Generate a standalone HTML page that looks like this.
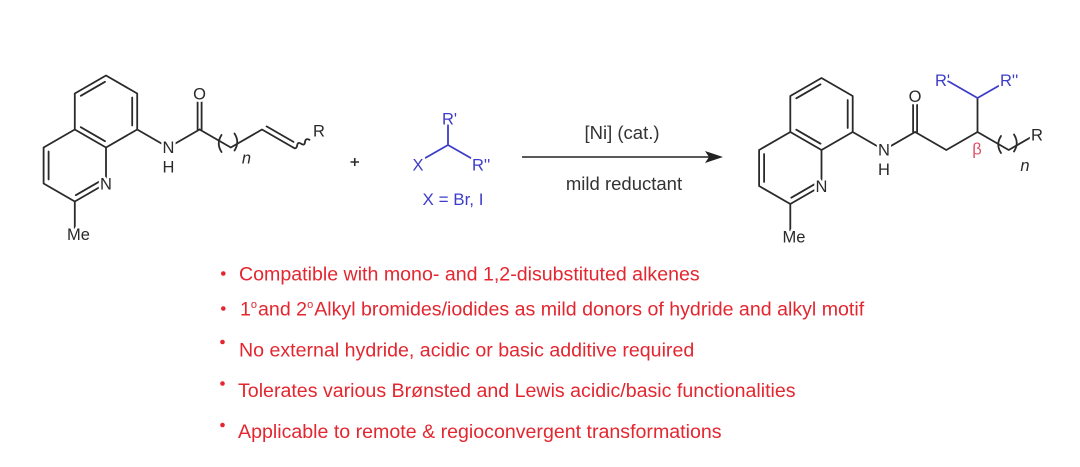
<!DOCTYPE html>
<html>
<head>
<meta charset="utf-8">
<style>
html,body{margin:0;padding:0;background:#fff;}
svg{display:block;}
.lb{font-family:"Liberation Sans",Arial,sans-serif;font-size:16.5px;fill:#2a2a2a;paint-order:stroke;stroke:#fff;stroke-width:5px;stroke-linejoin:round;}
.bl{fill:#3d3dc9;}
.it{font-style:italic;}
.bt{font-family:"Liberation Sans",Arial,sans-serif;font-size:19.6px;fill:#e3262f;}
.ar{font-family:"Liberation Sans",Arial,sans-serif;font-size:18.5px;fill:#333;}
</style>
</head>
<body>
<svg width="1080" height="467" viewBox="0 0 1080 467" xmlns="http://www.w3.org/2000/svg">
<rect width="1080" height="467" fill="#fff"/>

<!-- LEFT MOLECULE: quinoline amide -->
<g>
  <g stroke="#2a2a2a" stroke-width="1.8" fill="none" stroke-linecap="round" stroke-linejoin="round">
    <path d="M106,75.5 L137.2,93.5 L137.2,129.5 L106,147.5 L74.8,129.5 L74.8,93.5 Z"/>
    <path d="M106,147.5 L106,183.5 L74.8,201.5 L43.6,183.5 L43.6,147.5 L74.8,129.5"/>
    <path d="M80.8,95.8 L105,81.8 M132.2,97.5 L132.2,125.5 M80.8,127.2 L105,141.2 M100,181.2 L75.8,195.2 M48.6,151.5 L48.6,179.5"/>
    <path d="M74.8,201.5 L74.8,228"/>
    <path d="M137.2,129.5 L168.4,147.5 L199.6,129.5"/>
    <path d="M197.6,129.5 L197.6,96 M201.6,129.5 L201.6,96"/>
  </g>
  <text class="lb" x="106" y="189.5" text-anchor="middle">N</text>
  <text class="lb" x="78.5" y="240" text-anchor="middle">Me</text>
  <text class="lb" x="168.4" y="153" text-anchor="middle">N</text>
  <text class="lb" x="168.4" y="172.5" text-anchor="middle">H</text>
  <text class="lb" x="199.6" y="99.5" text-anchor="middle">O</text>
</g>

<!-- left chain -->
<g stroke="#2a2a2a" stroke-width="1.8" fill="none" stroke-linecap="round" stroke-linejoin="round">
  <path d="M199.6,129.5 L230.8,147.5 L262,129.5 L293.2,147.5"/>
  <path d="M266.6,126.4 L293.5,141.9"/>
  <path d="M293.2,147.5 Q296.2,149.8 297.15,145.6 Q297.6,141.4 301.1,143.75 Q304.6,146.1 305.05,141.9 Q305.5,137.7 309.5,139.8"/>
  <path d="M221.5,135 Q216,143.5 221.5,152"/>
  <path d="M234.5,133.5 Q240,142 234.5,150.5"/>
</g>
<text class="lb it" x="246.5" y="163.5" text-anchor="middle">n</text>
<text class="lb" x="319" y="136.5" text-anchor="middle">R</text>

<!-- plus -->
<g stroke="#2a2a2a" stroke-width="1.6">
  <path d="M350.5,162 L359,162 M354.75,158 L354.75,166"/>
</g>

<!-- middle reagent -->
<g stroke="#3d3dc9" stroke-width="1.8" fill="none" stroke-linecap="round" stroke-linejoin="round">
  <path d="M448,125 L448,145 L420,161 M448,145 L476,161"/>
</g>
<text class="lb bl" x="442" y="124.5">R'</text>
<text class="lb bl" x="418" y="170.5" text-anchor="middle">X</text>
<text class="lb bl" x="472" y="170.5">R''</text>
<text class="lb bl" x="453" y="205" text-anchor="middle" style="font-size:17px">X = Br, I</text>

<!-- arrow -->
<path d="M522,157 L710,157" stroke="#222" stroke-width="1.6"/>
<polygon points="723,157 705,151 709,157 705,163" fill="#222"/>
<text class="ar" x="622" y="139" text-anchor="middle">[Ni] (cat.)</text>
<text class="ar" x="624" y="190" text-anchor="middle">mild reductant</text>

<!-- RIGHT MOLECULE -->
<g transform="translate(715.5,2.5)">
  <g stroke="#2a2a2a" stroke-width="1.8" fill="none" stroke-linecap="round" stroke-linejoin="round">
    <path d="M106,75.5 L137.2,93.5 L137.2,129.5 L106,147.5 L74.8,129.5 L74.8,93.5 Z"/>
    <path d="M106,147.5 L106,183.5 L74.8,201.5 L43.6,183.5 L43.6,147.5 L74.8,129.5"/>
    <path d="M80.8,95.8 L105,81.8 M132.2,97.5 L132.2,125.5 M80.8,127.2 L105,141.2 M100,181.2 L75.8,195.2 M48.6,151.5 L48.6,179.5"/>
    <path d="M74.8,201.5 L74.8,228"/>
    <path d="M137.2,129.5 L168.4,147.5 L199.6,129.5"/>
    <path d="M197.6,129.5 L197.6,96 M201.6,129.5 L201.6,96"/>
  </g>
  <text class="lb" x="106" y="189.5" text-anchor="middle">N</text>
  <text class="lb" x="78.5" y="240" text-anchor="middle">Me</text>
  <text class="lb" x="168.4" y="153" text-anchor="middle">N</text>
  <text class="lb" x="168.4" y="172.5" text-anchor="middle">H</text>
  <text class="lb" x="199.6" y="99.5" text-anchor="middle">O</text>
</g>

<!-- right chain -->
<g stroke="#2a2a2a" stroke-width="1.8" fill="none" stroke-linecap="round" stroke-linejoin="round">
  <path d="M915.1,132 L946.3,150 L977.5,132 L1008.7,150 L1039.9,132"/>
  <path d="M977.5,132 L977.5,98"/>
  <path d="M1001,136 Q995.5,144.5 1001,153"/>
  <path d="M1014,134.5 Q1019.5,143 1014,151.5"/>
</g>
<g stroke="#3d3dc9" stroke-width="1.8" fill="none" stroke-linecap="round" stroke-linejoin="round">
  <path d="M947,80.5 L977.5,98 L1008,80.5"/>
</g>
<text class="lb bl" x="935" y="86">R'</text>
<text class="lb bl" x="1000" y="86">R''</text>
<text class="lb" x="977" y="154.5" text-anchor="middle" style="fill:#e0506a">β</text>
<text class="lb it" x="1025" y="171" text-anchor="middle">n</text>
<text class="lb" x="1037" y="140.5" text-anchor="middle">R</text>

<!-- bullets -->
<g fill="#e3262f">
  <circle cx="223.3" cy="273.5" r="2.3"/>
  <circle cx="223.3" cy="308.5" r="2.3"/>
  <circle cx="222.5" cy="342" r="2.3"/>
  <circle cx="222.5" cy="383.5" r="2.3"/>
  <circle cx="222.5" cy="425" r="2.3"/>
</g>
<text class="bt" x="239" y="280.5">Compatible with mono- and 1,2-disubstituted alkenes</text>
<text class="bt" x="240" y="315.5">1<tspan font-size="11" dy="-7.5">o</tspan><tspan dy="7.5" dx="1">and 2</tspan><tspan font-size="11" dy="-7.5">o</tspan><tspan dy="7.5" dx="1">Alkyl bromides/iodides as mild donors of hydride and alkyl motif</tspan></text>
<text class="bt" x="239" y="356.5">No external hydride, acidic or basic additive required</text>
<text class="bt" x="238" y="397">Tolerates various Brønsted and Lewis acidic/basic functionalities</text>
<text class="bt" x="238" y="438">Applicable to remote &amp; regioconvergent transformations</text>
</svg>
</body>
</html>
